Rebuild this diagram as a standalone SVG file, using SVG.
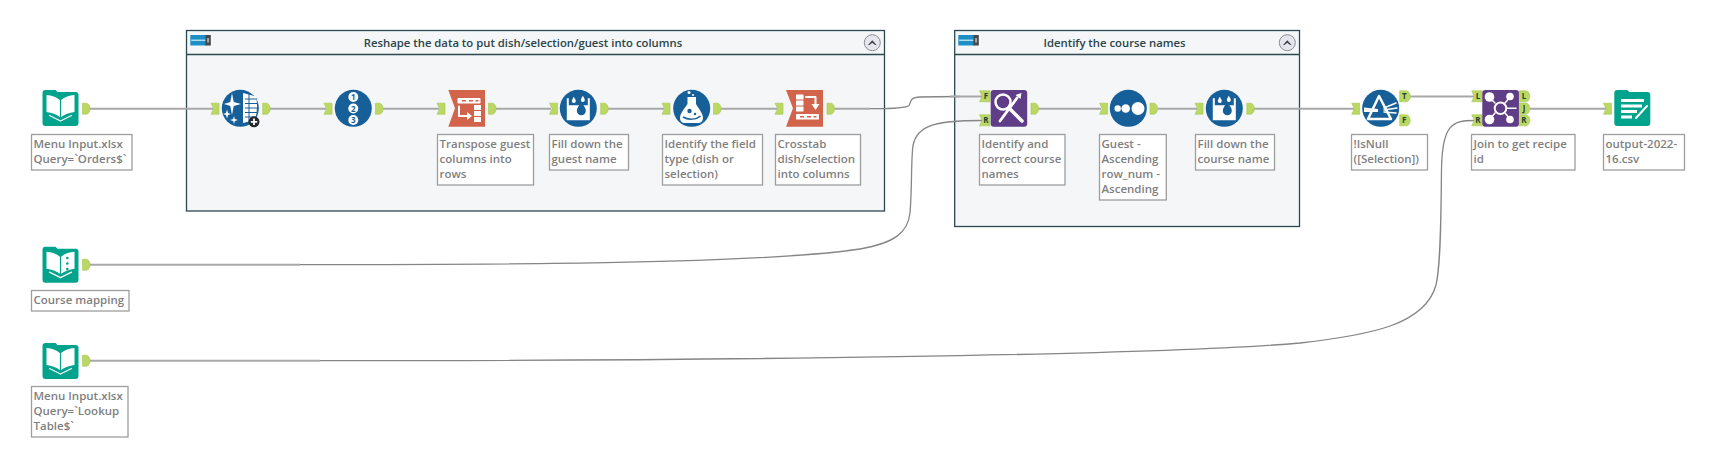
<svg xmlns="http://www.w3.org/2000/svg" width="1709" height="463" viewBox="0 0 1709 463">
<style>
text{font-family:"Open Sans","Noto Sans","DejaVu Sans",sans-serif}
.lbl{font-size:11.5px;font-weight:600;fill:#7f7f7f}
.box{fill:#fff;stroke:#9d9d9d;stroke-width:1.3}
.cont{fill:#f4f6f8;stroke:#2c4a4e;stroke-width:1.3}
.hdr{stroke:#2c4a4e;stroke-width:1.3;fill:none}
.title{font-size:11.300px;font-weight:600;fill:#2b4449;text-anchor:middle}
.wire{fill:none;stroke:#a8a8a8;stroke-width:2}
.curve{fill:none;stroke:#858585;stroke-width:1.3}
.anc{fill:#bbd962;stroke:#a5c454;stroke-width:.6}
.ltr{font-size:8px;font-weight:700;fill:#24423c;text-anchor:middle}
.w{fill:#fff}
.ws{fill:none;stroke:#fff;stroke-linecap:round;stroke-linejoin:round}
.blue{fill:#175f99}.teal{fill:#02a38c}.red{fill:#d2644c}.pur{fill:#5f3d87}
</style>
<defs>
<path id="ain" class="anc" d="M0-5.500H8V5.500H0L2.600 0Z"/>
<path id="aout" class="anc" d="M0-5.500H3.500C6-5.500 7.500-3 7.500 0S6 5.500 3.500 5.500H0Z"/>
<path id="ainL" class="anc" d="M0-5.500H10.500V5.500H0L2.600 0Z"/>
<path id="aoutL" class="anc" d="M0-5.500H6C9-5.500 10.500-3 10.500 0S9 5.500 6 5.500H0Z"/>
<path id="folder" class="teal" d="M0 3Q0 0 3 0H13L15 2H33Q36 2 36 5V33Q36 36 33 36H3Q0 36 0 33Z"/>
<g id="book">
<use href="#folder"/>
<path class="w" d="M4 5Q12 5.500 17.400 10V27Q12 23 4 22Z"/>
<path class="w" d="M32 5Q24 5.500 18.600 10V27Q24 23 32 22Z"/>
<path class="ws" stroke-width="1.300" d="M7 25.500L18 31L29 25.500"/>
</g>
<g id="ctl"><rect x="0" y="0" width="15.500" height="10.500" fill="#1c8fc7"/><rect x="15" y="0" width="5.500" height="10.500" fill="#45474b"/><path d="M1 5.200H15" stroke="#fff" stroke-width="1"/><rect x="16.800" y="3" width="2" height="4.500" fill="#a8a8a8"/></g>
<g id="btn"><circle r="8" fill="#e6e7ee" stroke="#8c8c92" stroke-width="1"/><path d="M-4.500 2.500L0-2.500L4.500 2.500L2.500 2L0 0L-2.500 2Z" fill="#3a3f44"/></g>
<g id="fill">
<circle r="18.500" class="blue"/>
<path class="w" d="M-11.500-10H-9.500V-3H9.500V-10H11.500V12H-11.500Z"/>
<path class="blue" d="M3-6.500C5-3 7.500-.5 7.500 2.500A4.500 4.500 0 0 1-1.500 2.500C-1.500-.5 1-3 3-6.500Z"/>
<path class="w" d="M3-5.500C4.500-3 6.500-1 6.500 2.500A3.500 3.500 0 0 1-.5 2.500C-.5-1 1.500-3 3-5.500Z" opacity="0"/>
<path class="w" d="M-4.500-11.500C-3.500-9.500-2.500-8.500-2.500-7.200A2 2 0 0 1-6.500-7.200C-6.500-8.500-5.500-9.500-4.500-11.500ZM4.500-12.500C5.500-10.500 6.500-9.500 6.500-8.200A2 2 0 0 1 2.500-8.200C2.500-9.500 3.500-10.500 4.500-12.500Z"/>
</g>
</defs>

<g id="containers">
<g id="container-reshape">
<rect class="cont" x="186.500" y="30.500" width="698" height="180.500"/>
<path class="hdr" d="M186.500 54.500H884.500"/>
<use href="#ctl" x="190.300" y="35"/>
<text class="title" x="523" y="46.700">Reshape the data to put dish/selection/guest into columns</text>
<use href="#btn" x="872.300" y="42.700"/>
</g>
<g id="container-course">
<rect class="cont" x="954.700" y="30.500" width="344.800" height="196"/>
<path class="hdr" d="M954.700 54.500H1299.500"/>
<use href="#ctl" x="958.300" y="35"/>
<text class="title" x="1114.500" y="46.700">Identify the course names</text>
<use href="#btn" x="1287.300" y="42.700"/>
</g>
</g>

<g id="connectors">
<path class="wire" d="M90 108.700H213"/>
<path class="wire" d="M270 108.700H326"/>
<path class="wire" d="M383 108.700H439"/>
<path class="wire" d="M496 108.700H551"/>
<path class="wire" d="M608 108.700H664"/>
<path class="wire" d="M721 108.700H777"/>
<path class="wire" d="M834 108.700H870"/>
<path class="curve" d="M870 108.700C885 108.700 905 109 909 105.500C911.500 102.500 908.500 97.500 920 97C935 96.500 950 96.500 960 96.500"/>
<path class="wire" d="M950 96.500H982"/>
<path class="wire" d="M90 264.700H300" />
<path class="curve" d="M300 264.700C500 264.700 760 264 860 249C895 243 908 232 910 213C912 190 911 170 912.500 150C914 125 935 120.500 982 120.500"/>
<path class="wire" d="M1038 108.700H1101"/>
<path class="wire" d="M1158 108.700H1197"/>
<path class="wire" d="M1254 108.700H1354"/>
<path class="wire" d="M1409 96.500H1474"/>
<path class="wire" d="M90 360.700H320"/>
<path class="curve" d="M320 360.700C700 360.700 1150 356 1300 343C1370 335 1425 325 1436 285C1441 265 1441 210 1441.500 170C1442 125 1452 120.500 1474 120.500"/>
<path class="wire" d="M1530 108.700H1606"/>
</g>

<g id="n1-input">
<use href="#book" x="42.500" y="90"/>
<use href="#aout" x="82.500" y="108.700"/>
<rect class="box" x="31.500" y="134.500" width="100.500" height="35.500"/>
<text class="lbl"><tspan x="33.500" y="148">Menu Input.xlsx</tspan><tspan x="33.500" y="163">Query=`Orders$`</tspan></text>
</g>
<g id="n2-generate">
<use href="#ain" x="211" y="108.700"/>
<circle cx="240.300" cy="108.300" r="18.500" class="blue"/>
<path class="w" d="M243 93L256 96.500Q258.500 108 255 120L243 123Z"/>
<path d="M245 99H257M245 103.500H257M245 108H257M245 112.500H257M245 117H257M249 94V122" stroke="#175f99" stroke-width="1"/>
<path class="w" d="M232 93L233.700 102L241 104L233.700 106L232 115L230.300 106L224 104L230.300 102Z"/>
<path class="w" d="M227 109.500L228 113L231 114L228 115L227 118.500L226 115L223 114L226 113Z"/>
<path class="w" d="M234 116L234.800 119L238 120L234.800 121L234 124L233.200 121L230 120L233.200 119Z"/>
<use href="#aout" x="262.700" y="108.700"/>
<circle cx="254" cy="121.800" r="5.500" fill="#26282c"/>
<path d="M250.800 121.800H257.200M254 118.600V125" stroke="#fff" stroke-width="1.800"/>
</g>
<g id="n3-recordid">
<use href="#ain" x="324" y="108.700"/>
<circle cx="353.300" cy="108.300" r="18.500" class="blue"/>
<circle cx="353.300" cy="97" r="5" class="w"/><circle cx="353.300" cy="108.500" r="5" class="w"/><circle cx="353.300" cy="120" r="5" class="w"/>
<text class="ltr" style="fill:#175f99" x="353.300" y="100">1</text><text class="ltr" style="fill:#175f99" x="353.300" y="111.500">2</text><text class="ltr" style="fill:#175f99" x="353.300" y="123">3</text>
<use href="#aout" x="375.500" y="108.700"/>
</g>
<g id="n4-transpose">
<use href="#ain" x="437" y="108.700"/>
<path class="red" d="M448.300 90H485V126.700H448.300L455 108.300Z"/>
<rect class="w" x="457.500" y="98" width="23" height="5.500" rx=".7"/>
<path d="M462 100.700H466M469 100.700H473M475.500 100.700H478.500" stroke="#d2644c" stroke-width="1.500"/>
<path class="ws" stroke-width="2" d="M459 106.500V116H469"/><path class="w" d="M467 112L472 116L467 120Z"/>
<rect class="w" x="474" y="105" width="7" height="5" rx=".5"/><rect class="w" x="474" y="111" width="7" height="5" rx=".5"/><rect class="w" x="474" y="117" width="7" height="5" rx=".5"/>
<use href="#aout" x="488.500" y="108.700"/>
<rect class="box" x="437.500" y="134.500" width="96" height="50.500"/>
<text class="lbl"><tspan x="439.500" y="148">Transpose guest</tspan><tspan x="439.500" y="163">columns into</tspan><tspan x="439.500" y="178">rows</tspan></text>
</g>
<g id="n5-filldown">
<use href="#ain" x="549.500" y="108.700"/>
<use href="#fill" x="578.300" y="108.300"/>
<use href="#aout" x="600.700" y="108.700"/>
<rect class="box" x="549.500" y="134.500" width="79" height="35.500"/>
<text class="lbl"><tspan x="551.500" y="148">Fill down the</tspan><tspan x="551.500" y="163">guest name</tspan></text>
</g>
<g id="n6-formula">
<use href="#ain" x="662" y="108.700"/>
<circle cx="691.700" cy="108.300" r="18.500" class="blue"/>
<path class="w" d="M687.500 97H696V104C698 108 703 113 703 118C703 121 701 123 698 123H685C682 123 680 121 680 118C680 113 685 108 687.500 104Z"/>
<circle cx="689.500" cy="111" r="2.200" class="blue"/><circle cx="695" cy="114" r="1.200" class="blue"/>
<path d="M683 117C688 120 696 120 700.500 116" fill="none" stroke="#175f99" stroke-width="1.500"/>
<circle cx="689" cy="92.500" r="1.500" class="w"/><circle cx="693" cy="95" r="1" class="w"/>
<use href="#aout" x="713.500" y="108.700"/>
<rect class="box" x="662.500" y="134.500" width="100" height="50.500"/>
<text class="lbl"><tspan x="664.500" y="148">Identify the field</tspan><tspan x="664.500" y="163">type (dish or</tspan><tspan x="664.500" y="178">selection)</tspan></text>
</g>
<g id="n7-crosstab">
<use href="#ain" x="775" y="108.700"/>
<path class="red" d="M786 90H823V126.700H786L793 108.300Z"/>
<rect class="w" x="796" y="94.500" width="7.500" height="5" rx=".5"/><rect class="w" x="796" y="100.500" width="7.500" height="5" rx=".5"/><rect class="w" x="796" y="106.500" width="7.500" height="5" rx=".5"/>
<path class="ws" stroke-width="2" d="M806 97H815.500V106"/><path class="w" d="M811.500 104L815.500 110L819.500 104Z"/>
<rect class="w" x="796" y="114" width="23" height="5.500" rx=".7"/>
<path d="M800 116.700H804M807 116.700H811M813.500 116.700H816.500" stroke="#d2644c" stroke-width="1.500"/>
<use href="#aout" x="827" y="108.700"/>
<rect class="box" x="775.500" y="134.500" width="85" height="50.500"/>
<text class="lbl"><tspan x="777.500" y="148">Crosstab</tspan><tspan x="777.500" y="163">dish/selection</tspan><tspan x="777.500" y="178">into columns</tspan></text>
</g>
<g id="n8-findreplace">
<use href="#ainL" x="979.500" y="96.300"/><text class="ltr" x="986" y="99">F</text>
<use href="#ainL" x="979.500" y="120.300"/><text class="ltr" x="986" y="123">R</text>
<rect class="pur" x="990.700" y="90" width="36.500" height="36.700" rx="3"/>
<circle cx="1003" cy="102" r="7.500" fill="none" stroke="#fff" stroke-width="2.500"/>
<path class="ws" stroke-width="3.500" d="M1009 108L1022 121"/>
<path class="ws" stroke-width="2.800" d="M1000 121L1017 98"/><path class="w" d="M1015.500 95L1021.500 93L1020.500 99Z"/>
<use href="#aout" x="1031" y="108.700"/>
<rect class="box" x="979.500" y="134.500" width="85.500" height="50.500"/>
<text class="lbl"><tspan x="981.500" y="148">Identify and</tspan><tspan x="981.500" y="163">correct course</tspan><tspan x="981.500" y="178">names</tspan></text>
</g>
<g id="n9-sort">
<use href="#ain" x="1099.500" y="108.700"/>
<circle cx="1128.300" cy="108.300" r="18.500" class="blue"/>
<circle cx="1117.700" cy="108.500" r="3.200" class="w"/><circle cx="1125.700" cy="108.500" r="4.300" class="w"/><circle cx="1138" cy="108.500" r="6.500" class="w"/>
<use href="#aout" x="1150" y="108.700"/>
<rect class="box" x="1099.500" y="134.500" width="66.800" height="65.500"/>
<text class="lbl"><tspan x="1101.500" y="148">Guest -</tspan><tspan x="1101.500" y="163">Ascending</tspan><tspan x="1101.500" y="178">row_num -</tspan><tspan x="1101.500" y="193">Ascending</tspan></text>
</g>
<g id="n10-filldown">
<use href="#ain" x="1195" y="108.700"/>
<use href="#fill" x="1224.300" y="108.300"/>
<use href="#aout" x="1246.800" y="108.700"/>
<rect class="box" x="1195.500" y="134.500" width="79" height="35.500"/>
<text class="lbl"><tspan x="1197.500" y="148">Fill down the</tspan><tspan x="1197.500" y="163">course name</tspan></text>
</g>
<g id="n11-filter">
<use href="#ain" x="1351.700" y="108.700"/>
<circle cx="1380.700" cy="108.300" r="18.500" class="blue"/>
<path d="M1379 96L1368 119H1391Z" fill="none" stroke="#fff" stroke-width="2.500" stroke-linejoin="round"/>
<path class="w" d="M1364 107.500L1378 109L1378 112L1364 112Z"/>
<path class="ws" stroke-width="1.500" d="M1384 108L1396 103M1384 110L1397 108M1384 112L1396 113"/>
<use href="#aoutL" x="1399.700" y="96.300"/><text class="ltr" x="1404.300" y="99">T</text>
<use href="#aoutL" x="1399.700" y="120.300"/><text class="ltr" x="1404.300" y="123">F</text>
<rect class="box" x="1351.500" y="134.500" width="76" height="35.500"/>
<text class="lbl"><tspan x="1353.500" y="148">!IsNull</tspan><tspan x="1353.500" y="163">([Selection])</tspan></text>
</g>
<g id="n12-join">
<use href="#ainL" x="1471.700" y="96.300"/><text class="ltr" x="1478" y="99">L</text>
<use href="#ainL" x="1471.700" y="120.300"/><text class="ltr" x="1478" y="123">R</text>
<rect class="pur" x="1482.300" y="90" width="36.700" height="36.700" rx="3"/>
<path class="ws" stroke-width="1.500" d="M1489 97L1495 103M1510 97L1505 103M1489 120L1495 113M1510 119L1505 113M1507 108.300H1516"/>
<circle cx="1500.500" cy="108.300" r="5.800" fill="none" stroke="#fff" stroke-width="2"/>
<circle cx="1489.500" cy="97" r="4.800" class="w"/><circle cx="1510" cy="96.500" r="3.800" class="w"/><circle cx="1489.500" cy="119.500" r="4.800" class="w"/><circle cx="1510" cy="119.500" r="3.800" class="w"/>
<use href="#aoutL" x="1519.300" y="96.300"/><text class="ltr" x="1524" y="99">L</text>
<use href="#aoutL" x="1519.300" y="108.500"/><text class="ltr" x="1524" y="111.200">J</text>
<use href="#aoutL" x="1519.300" y="120.300"/><text class="ltr" x="1524" y="123">R</text>
<rect class="box" x="1471.500" y="134.500" width="103.500" height="35.500"/>
<text class="lbl"><tspan x="1473.500" y="148">Join to get recipe</tspan><tspan x="1473.500" y="163">id</tspan></text>
</g>
<g id="n13-output">
<use href="#ain" x="1603.500" y="108.700"/>
<use href="#folder" x="1614.300" y="90"/>
<path class="w" d="M1621 99H1644V102H1621ZM1621 104.500H1642V107.500H1621ZM1621 110H1637V113H1621ZM1621 115.500H1632V118.500H1621Z"/>
<path class="ws" stroke-width="2" d="M1636 118L1647 106"/>
<rect class="box" x="1603.500" y="134.500" width="81" height="35.500"/>
<text class="lbl"><tspan x="1605.500" y="148">output-2022-</tspan><tspan x="1605.500" y="163">16.csv</tspan></text>
</g>
<g id="n14-input">
<use href="#folder" x="42.500" y="246.700"/>
<path class="w" d="M46.500 251.700Q54.500 252.200 59.900 256.700V273.700Q54.500 269.700 46.500 268.700Z"/>
<path class="w" d="M74.500 251.700Q66.500 252.200 61.100 256.700V273.700Q66.500 269.700 74.500 268.700Z"/>
<path class="ws" stroke-width="1.300" d="M49.500 272.200L60.500 277.700L71.500 272.200"/>
<circle cx="67.300" cy="258" r="1.300" class="teal"/><circle cx="67.300" cy="263.500" r="1.300" class="teal"/><circle cx="67.300" cy="269" r="1.300" class="teal"/>
<use href="#aout" x="82.500" y="264.700"/>
<rect class="box" x="31.500" y="290.500" width="97.500" height="20.500"/>
<text class="lbl" x="33.500" y="304">Course mapping</text>
</g>
<g id="n15-input">
<use href="#book" x="42.500" y="343"/>
<use href="#aout" x="82.500" y="360.700"/>
<rect class="box" x="31.500" y="386.500" width="96.500" height="50.500"/>
<text class="lbl"><tspan x="33.500" y="400">Menu Input.xlsx</tspan><tspan x="33.500" y="415">Query=`Lookup</tspan><tspan x="33.500" y="430">Table$`</tspan></text>
</g>
</svg>
